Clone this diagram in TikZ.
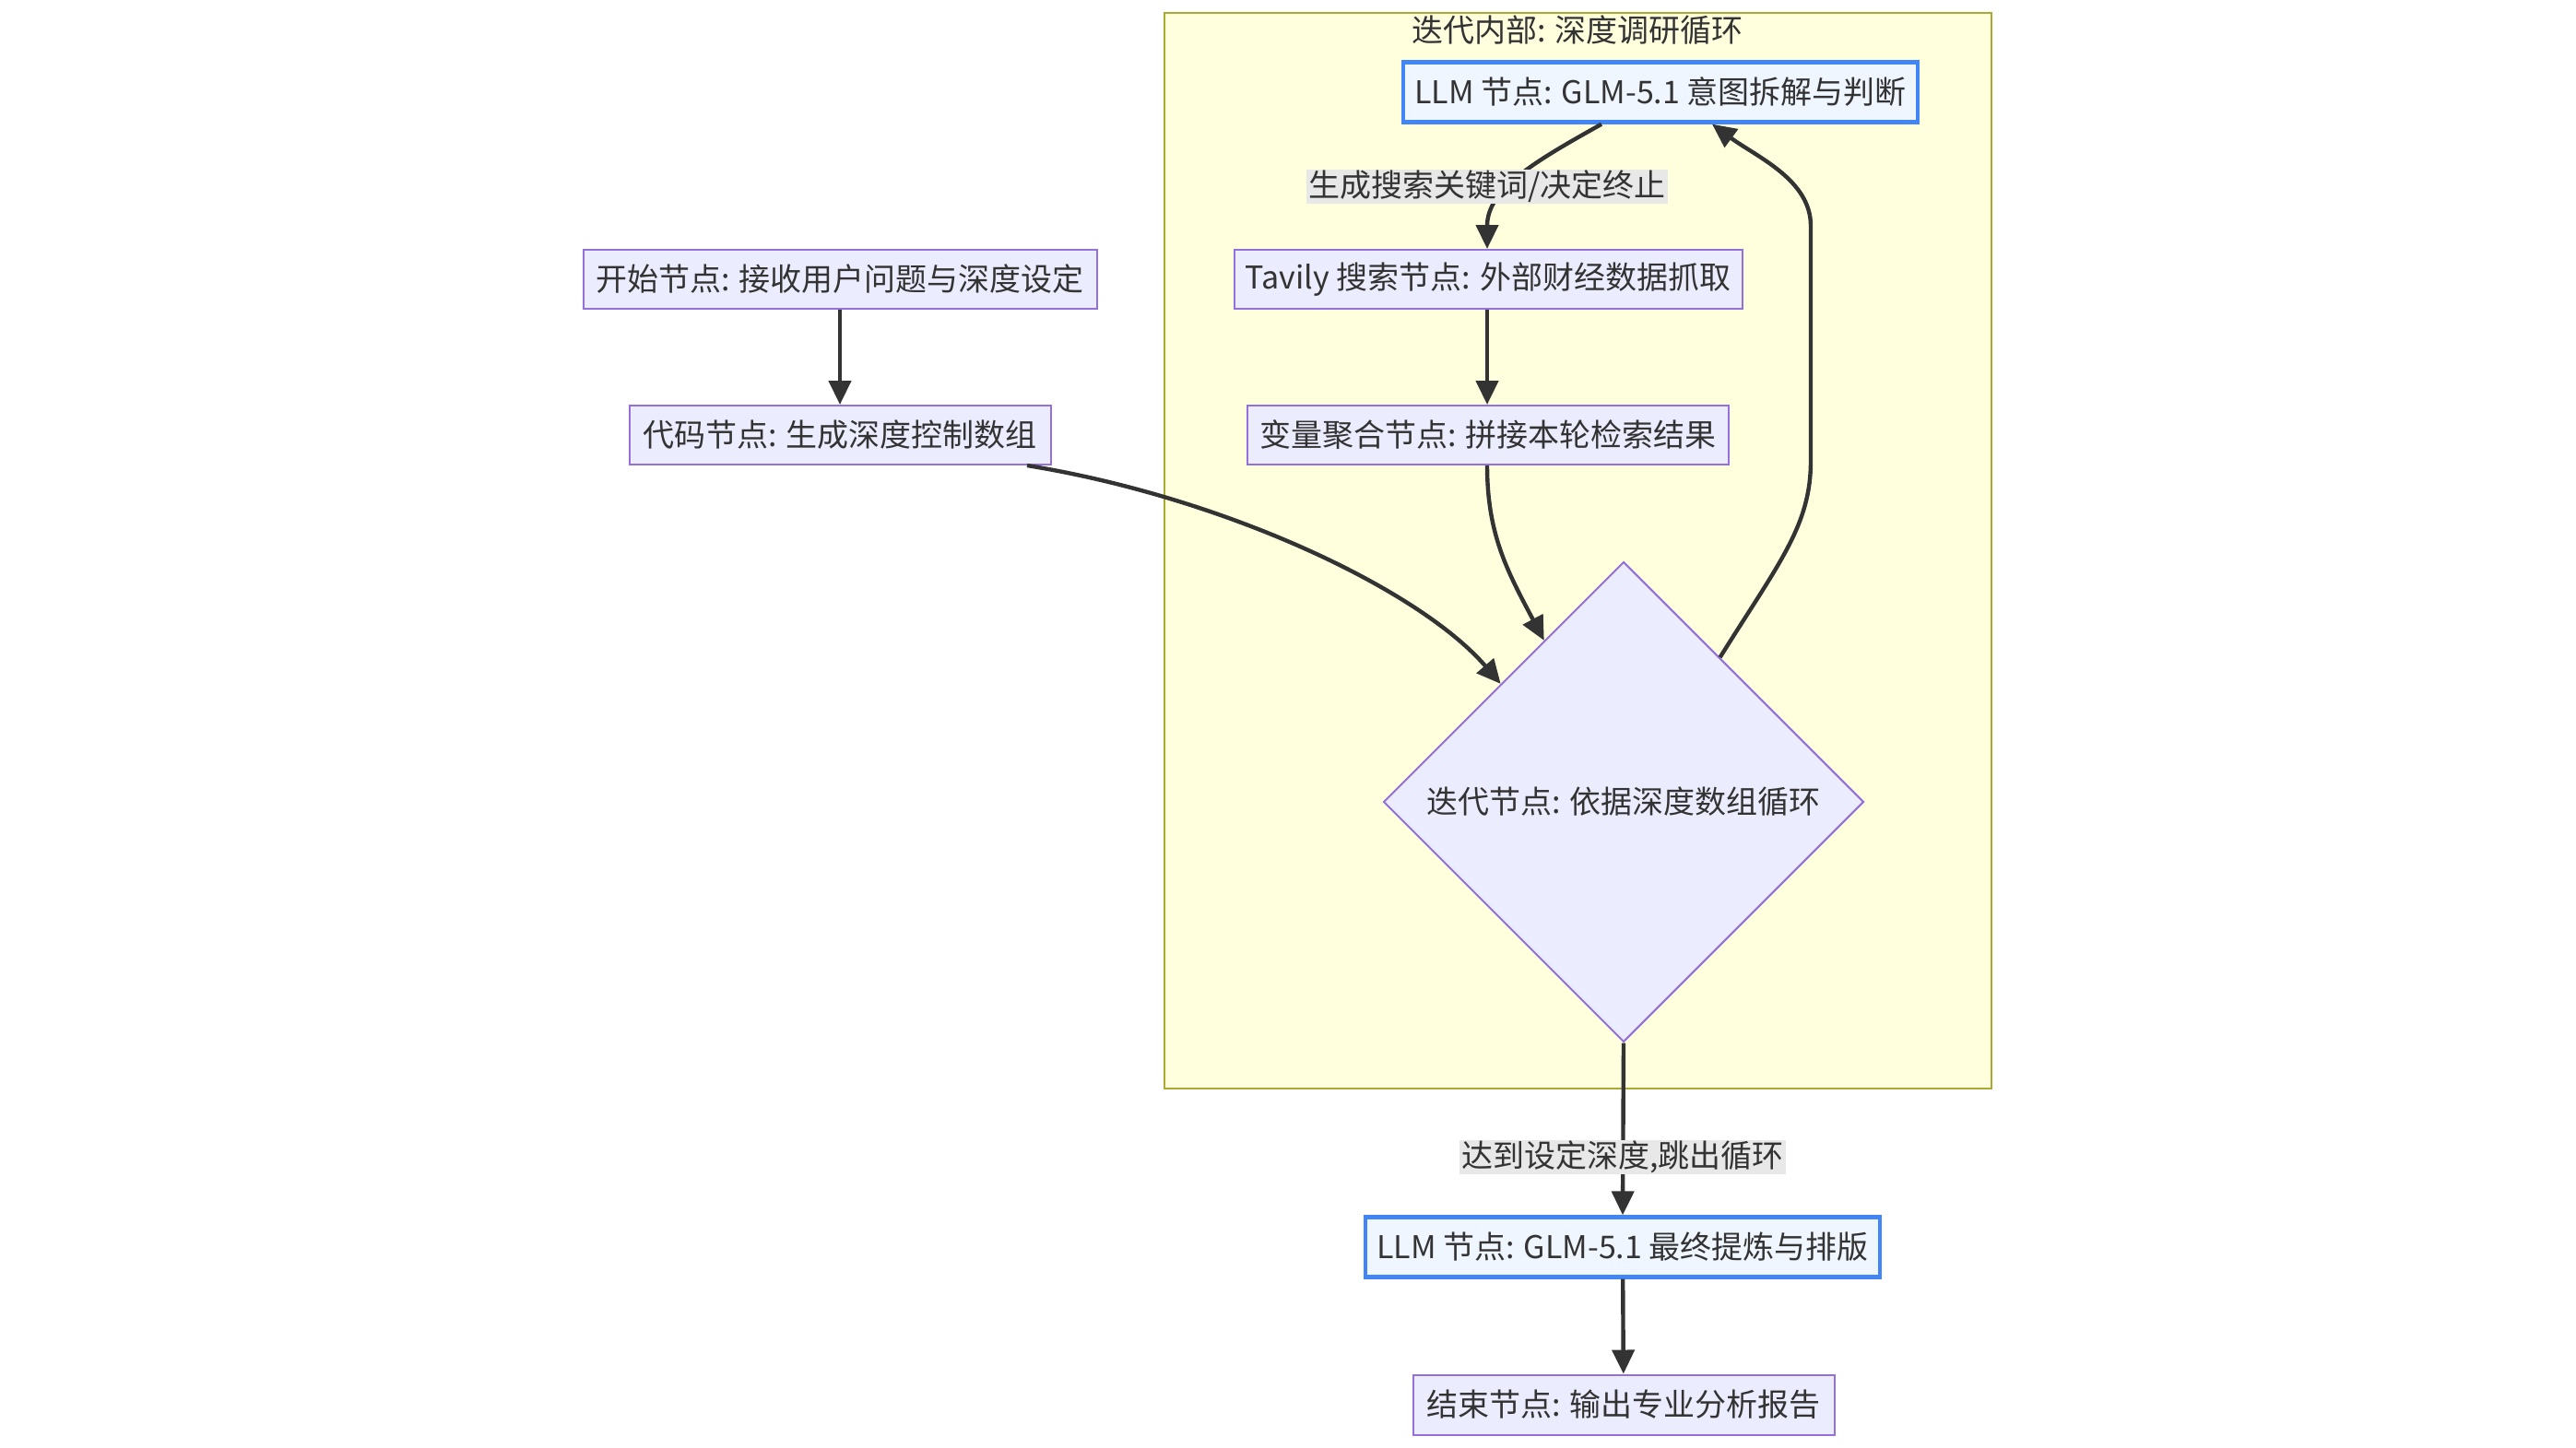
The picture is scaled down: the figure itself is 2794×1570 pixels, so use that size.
\documentclass[tikz,border=0pt]{standalone}
\usepackage{fontspec}
\setmainfont{Noto Sans CJK SC}
\usetikzlibrary{shapes.geometric,arrows.meta,calc}
\definecolor{nodefill}{HTML}{ECECFF}
\definecolor{nodeline}{HTML}{9370DB}
\definecolor{llmfill}{HTML}{EFF6FF}
\definecolor{llmline}{HTML}{4285F4}
\definecolor{subfill}{HTML}{FFFFDE}
\definecolor{subline}{HTML}{AAAA33}
\definecolor{txt}{HTML}{333333}
\definecolor{lblbg}{HTML}{E8E8E8}
\begin{document}
\begin{tikzpicture}[x=0.5pt,y=-0.5pt,
  txtfont/.style={font=\fontsize{17}{20}\selectfont, text=txt},
  box/.style={draw=nodeline, fill=nodefill, line width=1pt, txtfont, inner sep=0pt, minimum height=32pt},
  llm/.style={box, draw=llmline, fill=llmfill, line width=2.2pt, minimum height=32.5pt},
  decide/.style={diamond, draw=nodeline, fill=nodefill, line width=1pt, txtfont, inner sep=0pt, minimum width=260.5pt, minimum height=260.5pt},
  flow/.style={draw=txt, line width=2.2pt, -{Triangle[length=13pt,width=12pt]}},
  elabel/.style={fill=lblbg, txtfont, inner xsep=1pt, inner ysep=0pt, minimum height=18.5pt},
  group/.style={draw=subline, fill=subfill, line width=1pt}]
\useasboundingbox (0,0) rectangle (2794,1570);
\fill[white] (0,0) rectangle (2794,1570);

% subgraph
\node[group, minimum width=448.5pt, minimum height=583.5pt, inner sep=0pt] (grp) at (1711.5,597.5) {};
\node[txtfont, inner sep=0pt] (grptitle) at (1711,33) {迭代内部: 深度调研循环};

% nodes
\node[box, minimum width=278.5pt] (start) at (911,303) {开始节点: 接收用户问题与深度设定};
\node[box, minimum width=228.5pt] (code) at (911,472) {代码节点: 生成深度控制数组};
\node[llm, minimum width=279pt] (llm1) at (1801,100) {LLM 节点: GLM-5.1 意图拆解与判断};
\node[box, minimum width=275.5pt] (tavily) at (1614,303) {Tavily 搜索节点: 外部财经数据抓取};
\node[box, minimum width=261pt] (agg) at (1614,472) {变量聚合节点: 拼接本轮检索结果};
\node[decide] (iter) at (1761,870) {迭代节点: 依据深度数组循环};
\node[llm, minimum width=279pt] (llm2) at (1760,1353) {LLM 节点: GLM-5.1 最终提炼与排版};
\node[box, minimum width=228.5pt, minimum height=32.5pt] (finish) at (1761,1524) {结束节点: 输出专业分析报告};

% connectors
\draw[flow] (start) -- (code);
\draw[flow] ($(llm1.south)+(-64,0)$) .. controls (1665,175) and (1613,205) .. ($(tavily.north)+(-1,0)$);
\draw[flow] ($(tavily.south)+(-1,0)$) -- ($(agg.north)+(-1,0)$);
\draw[flow] ($(agg.south)+(-1,0)$) .. controls (1613,580) and (1635,620) .. ($(iter.north)!0.33!(iter.west)$);
\draw[flow] ($(code.south)+(203,0)$) .. controls (1330,540) and (1540,640) .. ($(iter.north)!0.51!(iter.west)$);
\draw[flow] ($(iter.north)!0.40!(iter.east)$) .. controls (1930,610) and (1964,570) .. (1964,500)
   -- (1964,245) .. controls (1964,195) and (1905,170) .. ($(llm1.south)+(56,0)$);
\draw[flow] (iter.south) -- (llm2.north);
\draw[flow] (llm2) -- (finish);

% edge labels
\node[elabel] (lab1) at (1613,202) {生成搜索关键词/决定终止};
\node[elabel] (lab2) at (1760,1255) {达到设定深度,跳出循环};
\end{tikzpicture}
\end{document}
